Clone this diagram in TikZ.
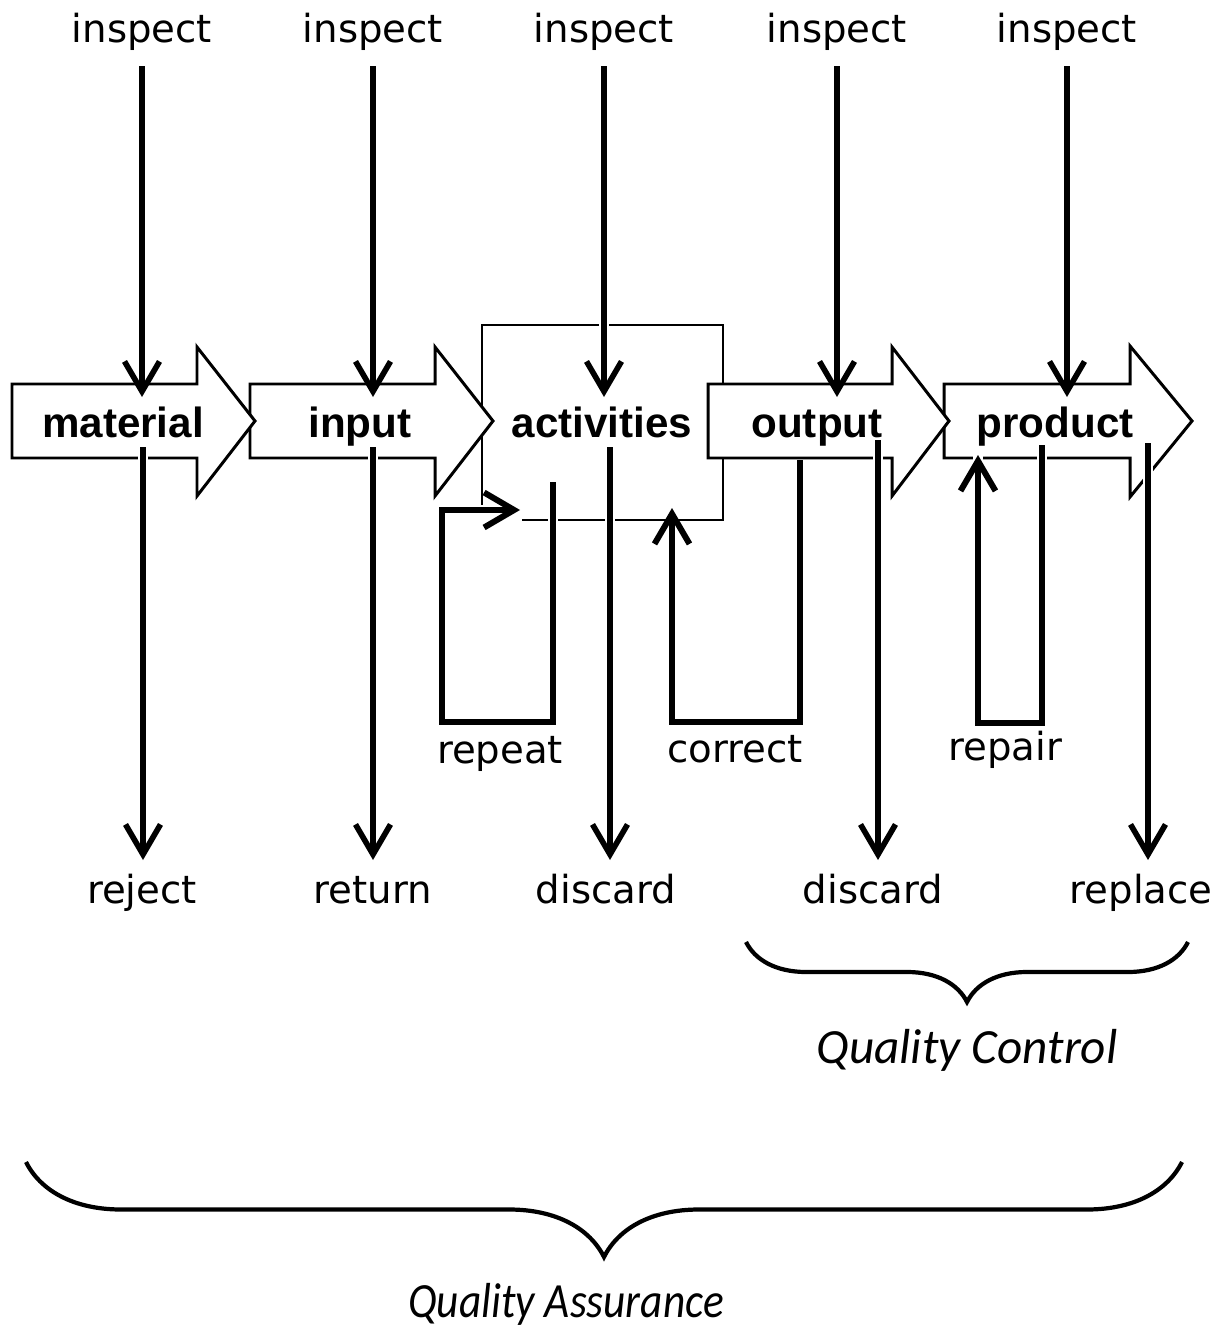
\documentclass[tikz,border=0pt]{standalone}
\usepackage{fontspec}
\setmainfont{DejaVu Sans}
\newfontfamily\boxfont{Liberation Sans}
\newfontfamily\qualfont{Carlito}
\usetikzlibrary{arrows.meta,decorations.pathreplacing}

\tikzset{
  blk/.style={draw, fill=white, line width=1.7pt, line join=miter},
  lbl/.style={anchor=base, inner sep=0pt, font=\fontsize{22}{26}\selectfont},
  boxlbl/.style={anchor=base, inner sep=0pt, font=\boxfont\bfseries\fontsize{24}{28}\selectfont},
  quallbl/.style={anchor=base, inner sep=0pt, font=\qualfont\itshape\fontsize{28}{32}\selectfont},
  halo/.style={preaction={draw=white, line width=6pt, -}},
  dn/.style={halo, line width=3.2pt, -{Straight Barb[length=6mm, width=7mm]}},
  back/.style={halo, line width=3.4pt, line join=miter, -{Straight Barb[length=6mm, width=7mm]}},
  brc/.style={decorate, decoration={brace, amplitude=#1}, line width=2.4pt},
}

\begin{document}
\begin{tikzpicture}[x=0.02cm, y=-0.02cm]
  \useasboundingbox (0,0) rectangle (1226,1327);

  % activities box (open at the lower left corner)
  \draw[line width=1.5pt] (482,507) -- (482,325) -- (723,325) -- (723,520) -- (522,520);

  % block arrows, drawn right to left so each tip lies on top
  \draw[blk] (944,384) -- (1130,384) -- (1130,346) -- (1192,421) -- (1130,497) -- (1130,458) -- (944,458) -- cycle;
  \draw[blk] (708,384) -- (892,384) -- (892,347) -- (949,421) -- (892,496) -- (892,458) -- (708,458) -- cycle;
  \draw[blk] (250,384) -- (435,384) -- (435,347) -- (493,421) -- (435,496) -- (435,458) -- (250,458) -- cycle;
  \draw[blk] (12,384) -- (197,384) -- (197,347) -- (255,421) -- (197,496) -- (197,458) -- (12,458) -- cycle;

  % stage labels
  \node[boxlbl] (mat) at (123,437) {material};
  \node[boxlbl] (inp) at (360,437) {input};
  \node[boxlbl] (act) at (602,437) {activities};
  \node[boxlbl] (outp) at (817,437) {output};
  \node[boxlbl] (prod) at (1055,437) {product};

  % inspect labels
  \node[lbl] (inspMat) at (142,43) {inspect};
  \node[lbl] (inspIn) at (373,43) {inspect};
  \node[lbl] (inspAct) at (604,43) {inspect};
  \node[lbl] (inspOut) at (837,43) {inspect};
  \node[lbl] (inspProd) at (1067,43) {inspect};

  % outcome labels
  \node[lbl] (rej) at (142,903) {reject};
  \node[lbl] (ret) at (373,903) {return};
  \node[lbl] (disA) at (606,903) {discard};
  \node[lbl] (disB) at (873,903) {discard};
  \node[lbl] (repl) at (1141,903) {replace};

  % loop labels
  \node[lbl] (rep) at (500,763) {repeat};
  \node[lbl] (corr) at (735,762) {correct};
  \node[lbl] (repr) at (1005,760) {repair};

  % rows where the arrows stop
  \coordinate (hit) at (0,397);
  \coordinate (bot) at (0,860);

  % inspect arrows
  \draw[dn, shorten <=3mm] (inspMat.south) -- (inspMat.south |- hit);
  \draw[dn, shorten <=3mm] (inspIn.south) -- (inspIn.south |- hit);
  \draw[dn, shorten <=3mm] (inspAct.south) -- (inspAct.south |- hit);
  \draw[dn, shorten <=3mm] (inspOut.south) -- (inspOut.south |- hit);
  \draw[dn, shorten <=3mm] (inspProd.south) -- (inspProd.south |- hit);

  % outgoing arrows
  \coordinate (matOut) at (143,447);
  \coordinate (inpOut) at (373,447);
  \coordinate (actOut) at (610,447);
  \coordinate (outOut) at (878,440);
  \coordinate (prodOut) at (1148,443);
  \draw[dn] (matOut) -- (matOut |- bot);
  \draw[dn] (inpOut) -- (inpOut |- bot);
  \draw[dn] (actOut) -- (actOut |- bot);
  \draw[dn] (outOut) -- (outOut |- bot);
  \draw[dn] (prodOut) -- (prodOut |- bot);

  % repeat, correct and repair loops
  \coordinate (repStart) at (553,482);
  \coordinate (actIn) at (520,510);
  \draw[back] (repStart) -- (553,722) -- (442,722) -- (442,510) -- (actIn);
  \coordinate (corrStart) at (800,460);
  \coordinate (actBot) at (672,508);
  \draw[back] (corrStart) -- (800,722) -- (672,722) -- (actBot);
  \coordinate (reprStart) at (1042,445);
  \coordinate (prodBot) at (978,455);
  \draw[back] (reprStart) -- (1042,723) -- (978,723) -- (prodBot);

  % braces
  \draw[brc=1.2cm] (1188,942) -- (746,942);
  \node[quallbl] (qc) at (967,1063) {Quality Control};
  \draw[brc=1.9cm] (1182,1162) -- (26,1162);
  \node[quallbl] (qa) at (566,1317) {\scalebox{0.88}[1]{Quality Assurance}};
\end{tikzpicture}
\end{document}
